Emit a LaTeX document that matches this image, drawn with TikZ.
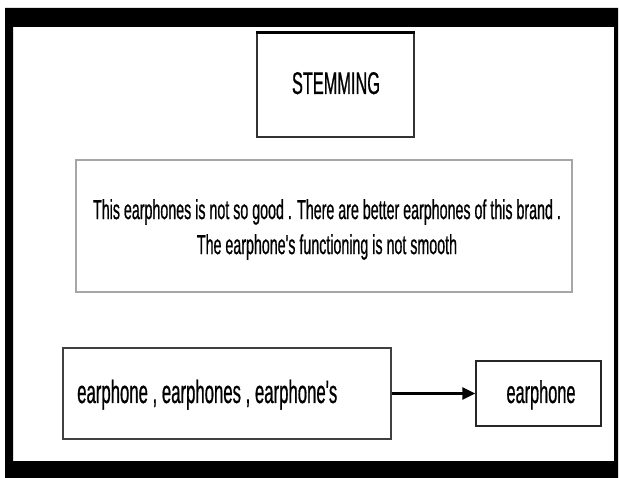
\documentclass[tikz,border=0pt]{standalone}
\usepackage{fontspec}
\setmainfont{Liberation Sans}
\newfontfamily\narrowfont[FakeStretch=0.52, FakeBold=0.6]{Liberation Sans}
\usetikzlibrary{arrows.meta}

\begin{document}
\begin{tikzpicture}[x=1pt, y=-1pt,
  box/.style={draw, rectangle, inner sep=0, line width=1.5pt},
  txt/.style={anchor=base, inner sep=0}]
\useasboundingbox (0,0) rectangle (619,478);
\fill[white] (0,0) rectangle (619,478);

% black frame round the page
\fill[black, even odd rule] (5,8) rectangle (618,478) (13,27) rectangle (614,461);

\node[box, draw=black!80, minimum width=157pt, minimum height=104pt] (title) at (335.5,85) {};
\draw[line width=3pt] (title.north west) -- (title.north east);
\node[txt, font=\narrowfont\fontsize{31.4}{34}\selectfont] (titletext) at (336,94) {STEMMING};

\node[box, draw=gray!70, minimum width=496pt, minimum height=132pt] (sent) at (324,226) {};
\node[anchor=center, inner sep=0, align=center, font=\narrowfont\fontsize{27.4}{35}\selectfont] (senttext) at (327,229.5)
  {This earphones is not so good . There are better earphones of this brand .\\ The earphone's functioning is not smooth};

\node[box, draw=black!75, minimum width=328pt, minimum height=91pt] (src) at (227,393.5) {};
\node[txt, anchor=base west, font=\narrowfont\fontsize{32.2}{36}\selectfont] (srctext) at (77,403) {earphone , earphones , earphone's};

\node[box, draw=black!85, minimum width=125pt, minimum height=65pt] (stem) at (538.5,393.5) {};
\node[txt, font=\narrowfont\fontsize{31.4}{36}\selectfont] (stemtext) at (541,403) {earphone};

\draw[-{Triangle[length=13pt, width=12pt]}, line width=2.8pt] (src.east) -- (stem.west);

\end{tikzpicture}
\end{document}
